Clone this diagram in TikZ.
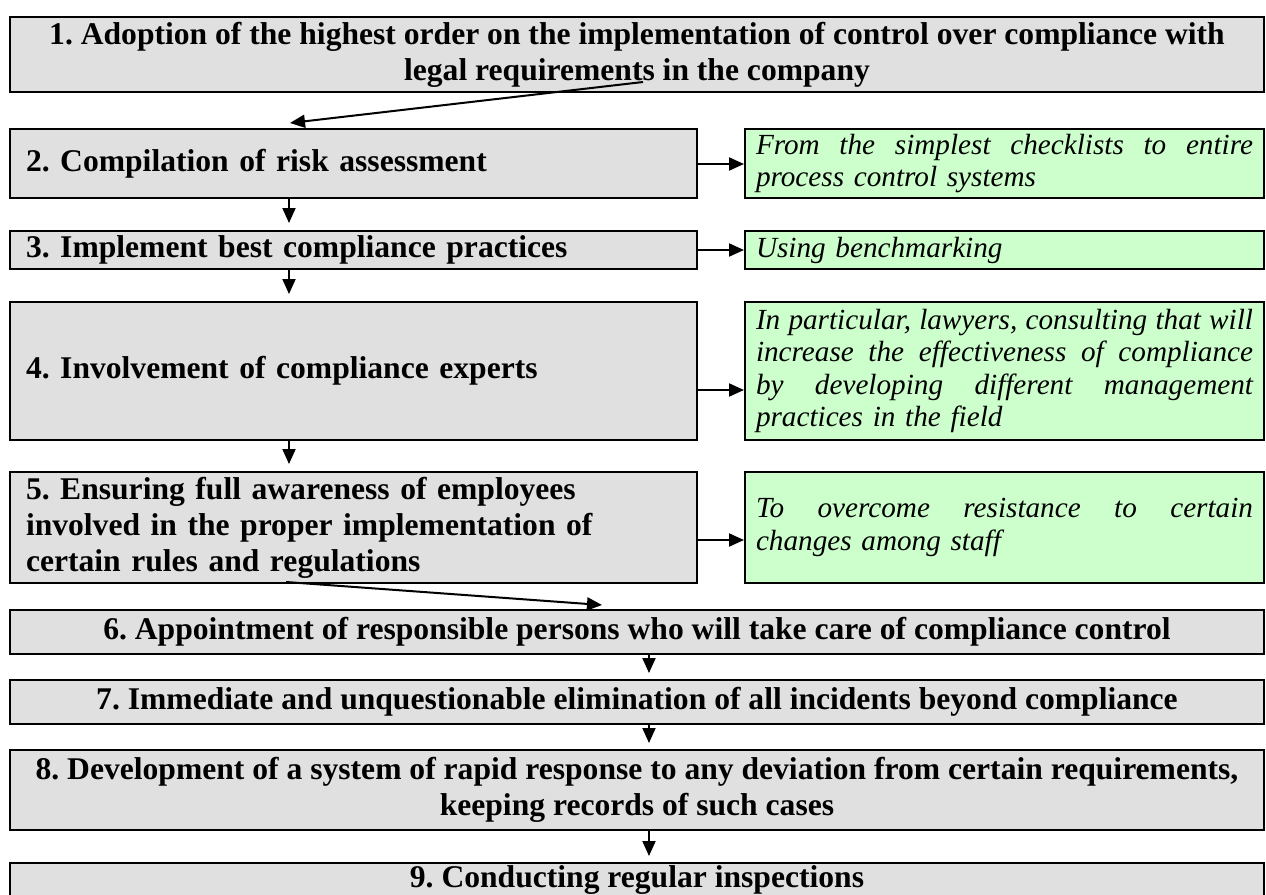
\documentclass[tikz,border=0pt]{standalone}
\usepackage{fontspec}
\setmainfont{Liberation Serif}
\usetikzlibrary{arrows.meta}
\definecolor{greyfill}{HTML}{E0E0E0}
\definecolor{greenfill}{HTML}{CCFFCC}
\newcommand\justline[1]{\leavevmode\hbox to 248.5pt{\spaceskip=0.25em plus 1fil\relax #1}}
\begin{document}
\frenchspacing
\begin{tikzpicture}[x=0.5pt,y=-0.5pt,
  gbox/.style={draw=black, line width=1pt, fill=greyfill, inner ysep=0pt,
    font=\fontsize{15.8}{18}\selectfont\bfseries\frenchspacing},
  widebox/.style={gbox, minimum width=627pt, inner xsep=0pt, align=center},
  leftbox/.style={gbox, minimum width=343.5pt, inner xsep=8pt, text width=327.5pt, align=left},
  notebox/.style={draw=black, line width=1pt, fill=greenfill, inner ysep=0pt,
    inner xsep=5.5pt, text width=248.5pt, align=left,
    font=\fontsize{14.6}{16.2}\selectfont\itshape\frenchspacing},
  conn/.style={draw=black, line width=1pt, -{Triangle[length=7.5pt,width=6.5pt]}}]
\useasboundingbox (0,0) rectangle (1266,895);
\clip (0,0) rectangle (1266,895);
\fill[white] (0,0) rectangle (1266,895);

% left column boxes
\node[widebox, minimum height=37.5pt] (b1) at (637,54.5)
  {1. Adoption of the highest order on the implementation of control over compliance with\\legal requirements in the company};
\node[leftbox, minimum height=34.5pt] (b2) at (353.5,163.5) {2. Compilation of risk assessment};
\node[leftbox, minimum height=19pt] (b3) at (353.5,250) {3. Implement best compliance practices};
\node[leftbox, minimum height=69pt] (b4) at (353.5,371) {4. Involvement of compliance experts};
\node[leftbox, minimum height=55.5pt] (b5) at (353.5,527.5)
  {5. Ensuring full awareness of employees\\involved in the proper implementation of\\certain rules and regulations};
\node[widebox, minimum height=22pt] (b6) at (637,632)
  {6. Appointment of responsible persons who will take care of compliance control};
\node[widebox, minimum height=22pt] (b7) at (637,702)
  {7. Immediate and unquestionable elimination of all incidents beyond compliance};
\node[widebox, minimum height=40pt] (b8) at (637,790)
  {8. Development of a system of rapid response to any deviation from certain requirements,\\keeping records of such cases};
\node[widebox, minimum height=17pt] (b9) at (637,880) {9. Conducting regular inspections};

% right column notes
\node[notebox, minimum height=34.5pt] (g1) at (1004.5,163.5)
  {\justline{From the simplest checklists to entire}\\process control systems};
\node[notebox, minimum height=19pt] (g2) at (1004.5,250) {Using benchmarking};
\node[notebox, minimum height=69pt] (g3) at (1004.5,371)
  {\justline{In particular, lawyers, consulting that will}\\\justline{increase the effectiveness of compliance}\\\justline{by developing different management}\\practices in the field};
\node[notebox, minimum height=55.5pt] (g4) at (1004.5,527.5)
  {\justline{To overcome resistance to certain}\\changes among staff};

% helper coordinates
\coordinate (ax) at (289,0);
\coordinate (bx) at (649,0);
\coordinate (r1) at (0,164);
\coordinate (r2) at (0,250);
\coordinate (r3) at (0,390);
\coordinate (r4) at (0,540);
\coordinate (a12s) at (643,82);
\coordinate (a12e) at (290,123);
\coordinate (a56s) at (286,582);
\coordinate (a56e) at (602,605);

% connectors
\draw[conn] (a12s) -- (a12e);
\draw[conn, shorten >=3.5pt] (b2.south -| ax) -- (b3.north -| ax);
\draw[conn, shorten >=3.5pt] (b3.south -| ax) -- (b4.north -| ax);
\draw[conn, shorten >=3.5pt] (b4.south -| ax) -- (b5.north -| ax);
\draw[conn] (a56s) -- (a56e);
\draw[conn, shorten >=3pt] (b6.south -| bx) -- (b7.north -| bx);
\draw[conn, shorten >=3pt] (b7.south -| bx) -- (b8.north -| bx);
\draw[conn, shorten >=3pt] (b8.south -| bx) -- (b9.north -| bx);
\draw[conn] (b2.east |- r1) -- (g1.west |- r1);
\draw[conn] (b3.east |- r2) -- (g2.west |- r2);
\draw[conn] (b4.east |- r3) -- (g3.west |- r3);
\draw[conn] (b5.east |- r4) -- (g4.west |- r4);
\end{tikzpicture}
\end{document}
